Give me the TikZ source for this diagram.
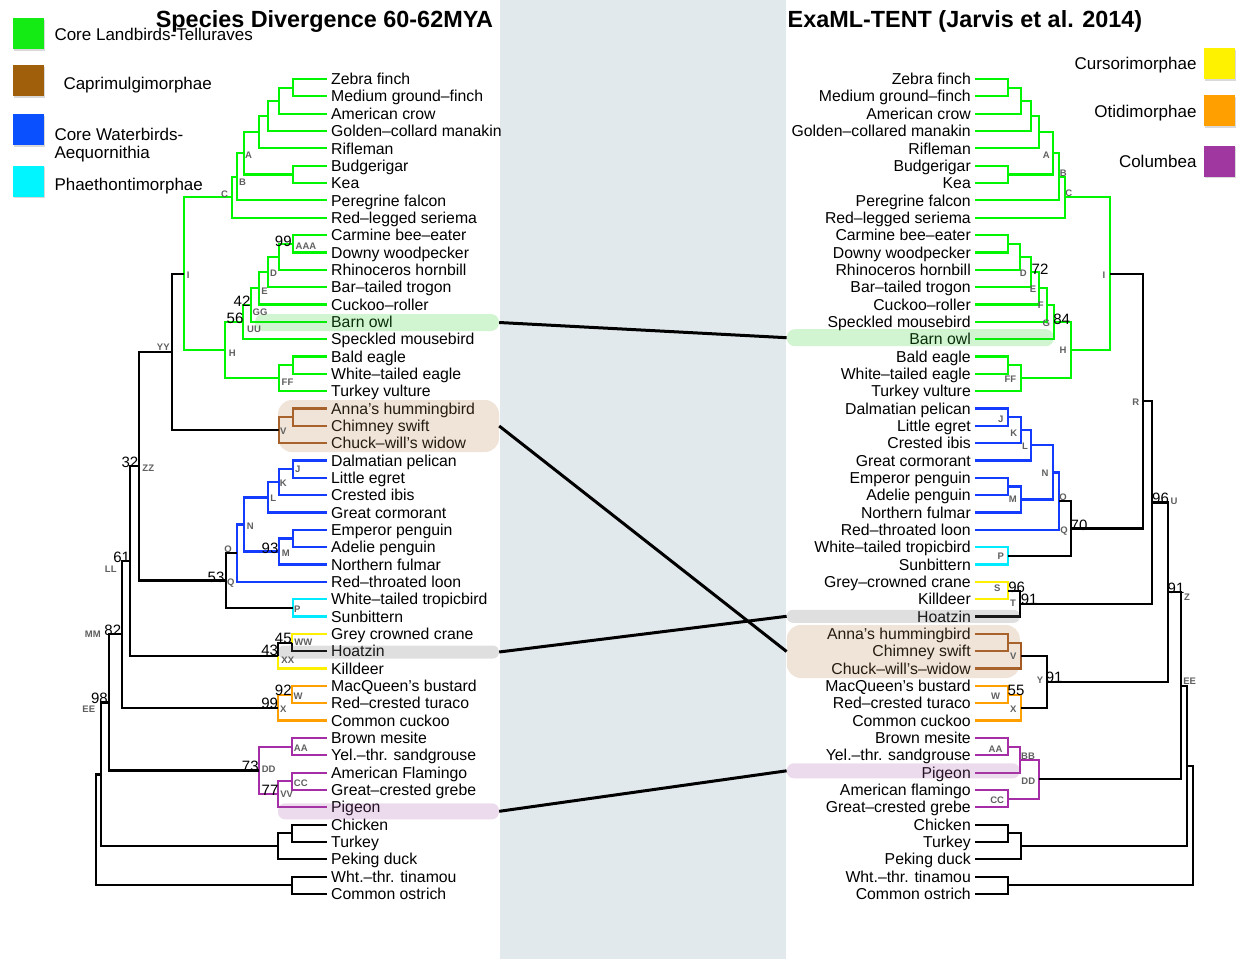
\documentclass[tikz,border=0pt]{standalone}
\usepackage{fontspec}
\setmainfont{Liberation Sans}
\usepackage{xcolor}
\usepackage{tikz}
\usetikzlibrary{shadows}

\definecolor{tgreen}{RGB}{0,245,0}
\definecolor{tbrown}{RGB}{165,90,35}
\definecolor{tblue}{RGB}{20,60,255}
\definecolor{tcyan}{RGB}{0,235,255}
\definecolor{tyellow}{RGB}{255,240,0}
\definecolor{torange}{RGB}{255,160,0}
\definecolor{tpurple}{RGB}{165,45,165}
\definecolor{sqgreen}{RGB}{20,235,20}
\definecolor{sqbrown}{RGB}{160,95,10}
\definecolor{sqblue}{RGB}{10,80,255}
\definecolor{sqcyan}{RGB}{0,245,255}
\definecolor{sqyellow}{RGB}{255,242,0}
\definecolor{sqorange}{RGB}{255,160,0}
\definecolor{sqpurple}{RGB}{160,55,160}
\definecolor{bandcol}{RGB}{226,233,237}
\definecolor{labgray}{RGB}{95,95,95}
\definecolor{hlgreen}{RGB}{45,205,45}
\definecolor{hltan}{RGB}{180,130,75}
\definecolor{hlgray}{RGB}{110,110,110}
\definecolor{hlpurple}{RGB}{170,90,170}

\tikzset{
    branch/.style={line width=2.2pt},
    leafL/.style={anchor=west, inner xsep=4pt, inner ysep=0pt, text height=11.3pt, text depth=0pt, font=\fontsize{15.8}{18}\selectfont},
    leafR/.style={leafL, anchor=east},
    nlab/.style={inner sep=0pt, text=labgray, font=\fontsize{9.5}{10}\selectfont\bfseries},
    boot/.style={inner sep=0pt, font=\fontsize{15}{16}\selectfont},
    hl/.style={fill=#1, fill opacity=0.22, inner sep=0pt},
    tangle/.style={line width=3pt},
    legsq/.style={minimum size=31pt, inner sep=0pt, drop shadow={shadow xshift=1pt, shadow yshift=-1.5pt, opacity=0.3}},
    legtxt/.style={inner xsep=2pt, inner ysep=0pt, text height=12.2pt, text depth=0pt, font=\fontsize{17}{20}\selectfont},
    headline/.style={anchor=base, inner sep=0pt, font=\fontsize{23.4}{26}\selectfont\bfseries}
}

\begin{document}
\begin{tikzpicture}[x=1pt, y=-1pt]

    \useasboundingbox (0,0) rectangle (1243,959);
    \fill[bandcol] (500,0) rectangle (786,959);

    \foreach \s [count=\i from 0] in {Zebra finch,Medium ground--finch,American crow,Golden--collard manakin,Rifleman,Budgerigar,Kea,Peregrine falcon,Red--legged seriema,Carmine bee--eater,Downy woodpecker,Rhinoceros hornbill,Bar--tailed trogon,Cuckoo--roller,Barn owl,Speckled mousebird,Bald eagle,White--tailed eagle,Turkey vulture,Anna's hummingbird,Chimney swift,Chuck--will's widow,Dalmatian pelican,Little egret,Crested ibis,Great cormorant,Emperor penguin,Adelie penguin,Northern fulmar,Red--throated loon,White--tailed tropicbird,Sunbittern,Grey crowned crane,Hoatzin,Killdeer,MacQueen's bustard,Red--crested turaco,Common cuckoo,Brown mesite,Yel.--thr. sandgrouse,American Flamingo,Great--crested grebe,Pigeon,Chicken,Turkey,Peking duck,Wht.--thr. tinamou,Common ostrich}
        \node[leafL] (L\i) at (327,79+17.34*\i) {\s};

    \foreach \s [count=\i from 0] in {Zebra finch,Medium ground--finch,American crow,Golden--collared manakin,Rifleman,Budgerigar,Kea,Peregrine falcon,Red--legged seriema,Carmine bee--eater,Downy woodpecker,Rhinoceros hornbill,Bar--tailed trogon,Cuckoo--roller,Speckled mousebird,Barn owl,Bald eagle,White--tailed eagle,Turkey vulture,Dalmatian pelican,Little egret,Crested ibis,Great cormorant,Emperor penguin,Adelie penguin,Northern fulmar,Red--throated loon,White--tailed tropicbird,Sunbittern,Grey--crowned crane,Killdeer,Hoatzin,Anna's hummingbird,Chimney swift,Chuck--will's--widow,MacQueen's bustard,Red--crested turaco,Common cuckoo,Brown mesite,Yel.--thr. sandgrouse,Pigeon,American flamingo,Great--crested grebe,Chicken,Turkey,Peking duck,Wht.--thr. tinamou,Common ostrich}
        \node[leafR] (R\i) at (975,79+17.34*\i) {\s};

    % left tree
    \coordinate (lzf) at (292.7,87.7);
    \coordinate (lcrow) at (279,100.7);
    \coordinate (lman) at (268,115.9);
    \coordinate (lrif) at (259,132.1);
    \coordinate (lpar) at (292.7,174.4);
    \coordinate (lA) at (244,153.2);
    \coordinate (lB) at (237,176.8);
    \coordinate (lC) at (231.7,197.3);
    \coordinate (lAAA) at (292.7,243.7);
    \coordinate (lrh) at (279,256.7);
    \coordinate (lD) at (268.3,271.9);
    \coordinate (lE) at (259,288.2);
    \coordinate (lGG) at (250.7,305);
    \coordinate (lUU) at (243.3,322);
    \coordinate (lbe) at (292.7,365.1);
    \coordinate (lFF) at (279,378.1);
    \coordinate (lH) at (225,350);
    \coordinate (lI) at (184,273.7);
    \coordinate (lcs) at (292.7,417.1);
    \coordinate (lV) at (279,430.1);
    \coordinate (lYY) at (171.7,351.9);
    \coordinate (lJ) at (292.7,469.2);
    \coordinate (lK) at (279,482.2);
    \coordinate (lL) at (268.3,497.4);
    \coordinate (lpen) at (292.7,538.5);
    \coordinate (lM) at (279,551.5);
    \coordinate (lN) at (244,524.5);
    \coordinate (lO) at (236.7,553.2);
    \coordinate (lP) at (292.7,607.9);
    \coordinate (lQ) at (225.7,580.5);
    \coordinate (lZZ) at (139.3,466.2);
    \coordinate (lWW) at (292.3,642.6);
    \coordinate (lXX) at (278.3,655.6);
    \coordinate (lLL) at (130,560.9);
    \coordinate (lW) at (292.3,694.6);
    \coordinate (lX) at (278.3,707.6);
    \coordinate (lMM) at (121.7,634.2);
    \coordinate (lAA) at (292.3,746.6);
    \coordinate (lCC) at (292.3,781.3);
    \coordinate (lVV) at (278.3,794.3);
    \coordinate (lDD) at (259,770.5);
    \coordinate (lEE) at (109.3,702.4);
    \coordinate (lgal) at (292.3,833.3);
    \coordinate (lgal2) at (278.3,846.3);
    \coordinate (lpal) at (292.3,885.3);
    \coordinate (lneo) at (100.7,774.4);
    \coordinate (lroot) at (95.7,829.9);

    \draw[branch, tgreen]
        (lzf) |- (L0.west) (lzf) |- (L1.west)
        (lcrow) |- (lzf) (lcrow) |- (L2.west)
        (lman) |- (lcrow) (lman) |- (L3.west)
        (lrif) |- (lman) (lrif) |- (L4.west)
        (lpar) |- (L5.west) (lpar) |- (L6.west)
        (lA) |- (lrif) (lA) |- (lpar)
        (lB) |- (lA) (lB) |- (L7.west)
        (lC) |- (lB) (lC) |- (L8.west)
        (lAAA) |- (L9.west) (lAAA) |- (L10.west)
        (lrh) |- (lAAA) (lrh) |- (L11.west)
        (lD) |- (lrh) (lD) |- (L12.west)
        (lE) |- (lD) (lE) |- (L13.west)
        (lGG) |- (lE) (lGG) |- (L14.west)
        (lUU) |- (lGG) (lUU) |- (L15.west)
        (lbe) |- (L16.west) (lbe) |- (L17.west)
        (lFF) |- (lbe) (lFF) |- (L18.west)
        (lH) |- (lUU) (lH) |- (lFF)
        (lI) |- (lC) (lI) |- (lH);
    \draw[branch, tbrown]
        (lcs) |- (L19.west) (lcs) |- (L20.west)
        (lV) |- (lcs) (lV) |- (L21.west);
    \draw[branch, tblue]
        (lJ) |- (L22.west) (lJ) |- (L23.west)
        (lK) |- (lJ) (lK) |- (L24.west)
        (lL) |- (lK) (lL) |- (L25.west)
        (lpen) |- (L26.west) (lpen) |- (L27.west)
        (lM) |- (lpen) (lM) |- (L28.west)
        (lN) |- (lL) (lN) |- (lM)
        (lO) |- (lN) (lO) |- (L29.west);
    \draw[branch, tcyan]
        (lP) |- (L30.west) (lP) |- (L31.west);
    \draw[branch, tyellow]
        (lWW) |- (L32.west) (lXX) |- (L34.west);
    \draw[branch, torange]
        (lW) |- (L35.west) (lW) |- (L36.west)
        (lX) |- (lW) (lX) |- (L37.west);
    \draw[branch, tpurple]
        (lAA) |- (L38.west) (lAA) |- (L39.west)
        (lCC) |- (L40.west) (lCC) |- (L41.west)
        (lVV) |- (lCC) (lVV) |- (L42.west)
        (lDD) |- (lAA) (lDD) |- (lVV);
    \draw[branch]
        (lYY) |- (lI) (lYY) |- (lV)
        (lQ) |- (lO) (lQ) |- (lP)
        (lZZ) |- (lYY) (lZZ) |- (lQ)
        (lWW) |- (L33.west) (lXX) |- (lWW)
        (lLL) |- (lZZ) (lLL) |- (lXX)
        (lMM) |- (lLL) (lMM) |- (lX)
        (lEE) |- (lMM) (lEE) |- (lDD)
        (lgal) |- (L43.west) (lgal) |- (L44.west)
        (lgal2) |- (lgal) (lgal2) |- (L45.west)
        (lpal) |- (L46.west) (lpal) |- (L47.west)
        (lneo) |- (lEE) (lneo) |- (lgal2)
        (lroot) |- (lneo) (lroot) |- (lpal);

    % right tree
    \coordinate (rzf) at (1007.7,87.7);
    \coordinate (rcrow) at (1020.7,100.7);
    \coordinate (rman) at (1030.7,115.9);
    \coordinate (rrif) at (1039,132.1);
    \coordinate (rpar) at (1007.7,174.4);
    \coordinate (rA) at (1053.3,153.2);
    \coordinate (rB) at (1059.3,176.8);
    \coordinate (rC) at (1065,197.3);
    \coordinate (rcd) at (1007.7,243.7);
    \coordinate (rrh) at (1020,256.7);
    \coordinate (rD) at (1030.7,271.9);
    \coordinate (rE) at (1039.3,288.2);
    \coordinate (rF) at (1046.7,305);
    \coordinate (rG) at (1054,322);
    \coordinate (rbe) at (1007.7,365.1);
    \coordinate (rFF) at (1020.7,378.1);
    \coordinate (rH) at (1071,350);
    \coordinate (rI) at (1110,273.7);
    \coordinate (rJ) at (1007.7,417.1);
    \coordinate (rK) at (1020.7,430.1);
    \coordinate (rL) at (1030.7,445.3);
    \coordinate (rpen) at (1007.7,486.5);
    \coordinate (rM) at (1020.7,499.5);
    \coordinate (rN) at (1053.3,472.4);
    \coordinate (rO) at (1059.3,501.1);
    \coordinate (rP) at (1007.7,555.9);
    \coordinate (rQ) at (1071,528.5);
    \coordinate (rR) at (1143.3,401.1);
    \coordinate (rS) at (1007.7,590.6);
    \coordinate (rT) at (1020,603.6);
    \coordinate (rU) at (1152,502.4);
    \coordinate (rcs) at (1007.7,642.6);
    \coordinate (rV) at (1020.7,655.6);
    \coordinate (rW) at (1007.7,694.6);
    \coordinate (rX) at (1020.7,707.6);
    \coordinate (rY) at (1046.7,681.6);
    \coordinate (rZ) at (1168.3,592);
    \coordinate (rAA) at (1007.7,746.6);
    \coordinate (rBB) at (1020,759.6);
    \coordinate (rCC) at (1007.7,798.6);
    \coordinate (rDD) at (1039,779.1);
    \coordinate (rEE) at (1181,685.6);
    \coordinate (rgal) at (1007.7,833.3);
    \coordinate (rgal2) at (1020.7,846.3);
    \coordinate (rneo) at (1187.3,766);
    \coordinate (rpal) at (1007.7,885.3);
    \coordinate (rroot) at (1193.3,825.6);

    \draw[branch, tgreen]
        (rzf) |- (R0.east) (rzf) |- (R1.east)
        (rcrow) |- (rzf) (rcrow) |- (R2.east)
        (rman) |- (rcrow) (rman) |- (R3.east)
        (rrif) |- (rman) (rrif) |- (R4.east)
        (rpar) |- (R5.east) (rpar) |- (R6.east)
        (rA) |- (rrif) (rA) |- (rpar)
        (rB) |- (rA) (rB) |- (R7.east)
        (rC) |- (rB) (rC) |- (R8.east)
        (rcd) |- (R9.east) (rcd) |- (R10.east)
        (rrh) |- (rcd) (rrh) |- (R11.east)
        (rD) |- (rrh) (rD) |- (R12.east)
        (rE) |- (rD) (rE) |- (R13.east)
        (rF) |- (rE) (rF) |- (R14.east)
        (rG) |- (rF) (rG) |- (R15.east)
        (rbe) |- (R16.east) (rbe) |- (R17.east)
        (rFF) |- (rbe) (rFF) |- (R18.east)
        (rH) |- (rG) (rH) |- (rFF)
        (rI) |- (rC) (rI) |- (rH);
    \draw[branch, tblue]
        (rJ) |- (R19.east) (rJ) |- (R20.east)
        (rK) |- (rJ) (rK) |- (R21.east)
        (rL) |- (rK) (rL) |- (R22.east)
        (rpen) |- (R23.east) (rpen) |- (R24.east)
        (rM) |- (rpen) (rM) |- (R25.east)
        (rN) |- (rL) (rN) |- (rM)
        (rO) |- (rN) (rO) |- (R26.east);
    \draw[branch, tcyan]
        (rP) |- (R27.east) (rP) |- (R28.east);
    \draw[branch, tyellow]
        (rS) |- (R29.east) (rS) |- (R30.east);
    \draw[branch, tbrown]
        (rcs) |- (R32.east) (rcs) |- (R33.east)
        (rV) |- (rcs) (rV) |- (R34.east);
    \draw[branch, torange]
        (rW) |- (R35.east) (rW) |- (R36.east)
        (rX) |- (rW) (rX) |- (R37.east);
    \draw[branch, tpurple]
        (rAA) |- (R38.east) (rAA) |- (R39.east)
        (rBB) |- (rAA) (rBB) |- (R40.east)
        (rCC) |- (R41.east) (rCC) |- (R42.east)
        (rDD) |- (rBB) (rDD) |- (rCC);
    \draw[branch]
        (rQ) |- (rO) (rQ) |- (rP)
        (rR) |- (rI) (rR) |- (rQ)
        (rT) |- (rS) (rT) |- (R31.east)
        (rU) |- (rR) (rU) |- (rT)
        (rY) |- (rV) (rY) |- (rX)
        (rZ) |- (rU) (rZ) |- (rY)
        (rEE) |- (rZ) (rEE) |- (rDD)
        (rgal) |- (R43.east) (rgal) |- (R44.east)
        (rgal2) |- (rgal) (rgal2) |- (R45.east)
        (rpal) |- (R46.east) (rpal) |- (R47.east)
        (rneo) |- (rEE) (rneo) |- (rgal2)
        (rroot) |- (rneo) (rroot) |- (rpal);

    % highlighted taxa
    \node[hl=hlgreen, minimum width=244pt, minimum height=17pt, rounded corners=8pt] (hlOwlL) at (377,322.5) {};
    \node[hl=hltan, minimum width=221pt, minimum height=52pt, rounded corners=14pt] (hlSwiftL) at (388.5,426) {};
    \node[hl=hlgray, minimum width=221pt, minimum height=13pt, rounded corners=6pt] (hlHoatL) at (388.5,652) {};
    \node[hl=hlpurple, minimum width=221pt, minimum height=16pt, rounded corners=7pt] (hlPigL) at (388.5,811.3) {};
    \node[hl=hlgreen, minimum width=267pt, minimum height=17pt, rounded corners=8pt] (hlOwlR) at (920.3,337.7) {};
    \node[hl=hltan, minimum width=233pt, minimum height=53pt, rounded corners=14pt] (hlSwiftR) at (903.3,651.5) {};
    \node[hl=hlgray, minimum width=233pt, minimum height=13pt, rounded corners=6pt] (hlHoatR) at (903.3,616.3) {};
    \node[hl=hlpurple, minimum width=233pt, minimum height=15pt, rounded corners=7pt] (hlPigR) at (903.3,770.8) {};

    \draw[tangle] (hlOwlL.east) -- (hlOwlR.west);
    \draw[tangle] (hlSwiftL.east) -- (hlSwiftR.west);
    \draw[tangle] (hlHoatL.east) -- (hlHoatR.west);
    \draw[tangle] (hlPigL.east) -- (hlPigR.west);

    % node labels and support values
    \foreach \t/\x/\y [count=\k] in {A/248.5/155,B/242.5/182,C/224.5/194.5,AAA/306/246,D/273.5/273.5,E/264.5/291.3,GG/260/312,UU/254/329,H/232.3/352.8,FF/287.5/382,I/188.3/275,YY/163.3/347.5,V/283.3/431.7,ZZ/148.3/467.8,J/297.8/468.8,K/283.3/483.7,L/273.3/498.7,N/250.3/526.3,M/285.8/553,O/228/549.7,Q/230.7/582.8,P/297.3/608.8,LL/110.8/569.5,MM/92.8/634.7,WW/303.3/642.5,XX/287.8/660,W/298/696.3,X/283.3/708.8,EE/88.8/709.2,AA/300.8/748.5,DD/268.7/769.2,CC/300.8/783.3,VV/286.7/794.7}
        \node[nlab] (lnl\k) at (\x,\y) {\t};
    \foreach \t/\x/\y [count=\k] in {99/283.3/241,42/242/300.8,56/235/318.3,32/130/462.5,93/270/548,53/216/577.5,61/121.7/557.5,82/112.8/630.8,45/283.3/638,43/269.7/650.8,92/283.3/690.8,99/269.7/703.8,98/99.5/698.3,73/250.3/766.2,77/270/790.8}
        \node[boot] (lbs\k) at (\x,\y) {\t};
    \foreach \t/\x/\y [count=\k] in {A/1046.3/155,B/1063.3/173.3,C/1068.7/193.7,I/1104/275,D/1023.3/273,E/1033/289.7,F/1040.8/305.5,G/1046.3/323.7,FF/1010.3/379.7,H/1063/350.3,J/1000.8/418.8,K/1013.7/433,L/1025/446.7,M/1012.8/499.2,N/1045/473.7,O/1063/497.5,P/1000.7/556.7,Q/1064/531,R/1135.8/402.2,S/997.3/587.8,T/1013/603,U/1174/500.8,V/1013.3/655.8,W/995.7/695.8,X/1013.3/709.7,Y/1040/680,Z/1187/597.5,AA/995.5/748.8,BB/1028/755.8,CC/997.2/800,DD/1028.3/781.3,EE/1189.7/681.7}
        \node[nlab] (rnl\k) at (\x,\y) {\t};
    \foreach \t/\x/\y [count=\k] in {72/1040/269.2,84/1061.7/319.2,70/1079/525,96/1016.7/587.5,91/1029.2/599.5,96/1160.5/498.3,55/1016/690.8,91/1054.2/677.5,91/1176/588.3}
        \node[boot] (rbs\k) at (\x,\y) {\t};

    % legend
    \node[legsq, fill=sqgreen] (sqTell) at (28,33.8) {};
    \node[legsq, fill=sqbrown] (sqCapr) at (28,80.8) {};
    \node[legsq, fill=sqblue] (sqAequ) at (28,129.7) {};
    \node[legsq, fill=sqcyan] (sqPhae) at (28,181.2) {};
    \node[legsq, fill=sqyellow] (sqCurs) at (1219.5,63.8) {};
    \node[legsq, fill=sqorange] (sqOtid) at (1219.5,110.8) {};
    \node[legsq, fill=sqpurple] (sqColu) at (1219.5,161.3) {};

    \node[legtxt, anchor=west] (txTell) at (52.3,34.2) {Core Landbirds-Telluraves};
    \node[legtxt, anchor=west] (txCapr) at (61.3,83.3) {Caprimulgimorphae};
    \node[legtxt, anchor=west] (txAequ) at (52.3,134.2) {Core Waterbirds-};
    \node[legtxt, anchor=west] (txAequb) at (52.3,152.5) {Aequornithia};
    \node[legtxt, anchor=west] (txPhae) at (52.3,184.8) {Phaethontimorphae};
    \node[legtxt, anchor=east] (txCurs) at (1198.7,63.3) {Cursorimorphae};
    \node[legtxt, anchor=east] (txOtid) at (1198.7,111.7) {Otidimorphae};
    \node[legtxt, anchor=east] (txColu) at (1198.7,161.7) {Columbea};

    \node[headline] (titleL) at (324.5,27) {Species Divergence 60-62MYA};
    \node[headline] (titleR) at (965,27) {ExaML-TENT (Jarvis et al. 2014)};

\end{tikzpicture}
\end{document}
